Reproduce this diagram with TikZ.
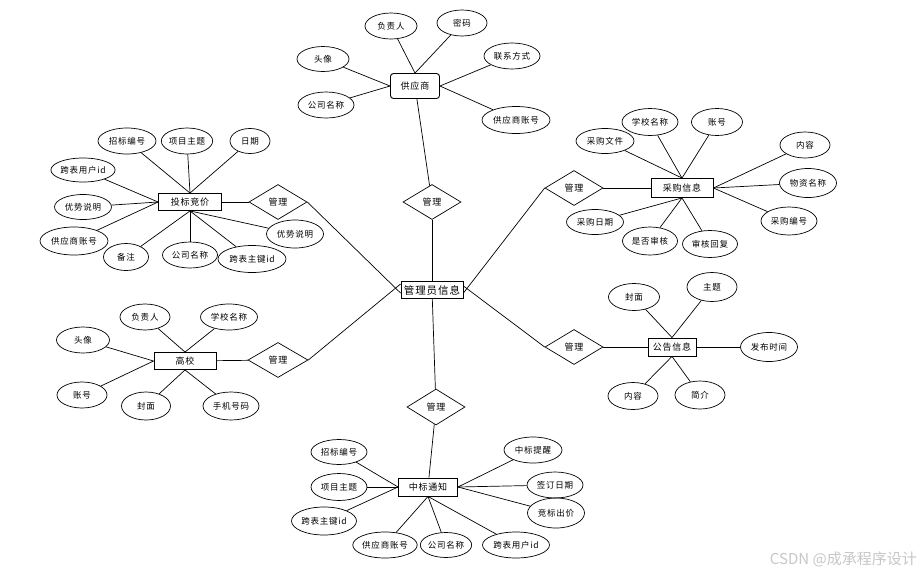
\documentclass[tikz,border=0pt]{standalone}
\usepackage{fontspec}
\setmainfont[LetterSpace=9]{Noto Sans CJK SC}
\newfontfamily\wmfont{Noto Sans CJK SC}
\usetikzlibrary{shapes.geometric}
\tikzset{
  attr/.style={draw, ellipse, line width=0.7pt, inner sep=0pt, font=\fontsize{8.5}{10}\selectfont},
  ent/.style={draw, rectangle, line width=0.9pt, inner sep=0pt, fill=white, font=\fontsize{9}{10}\selectfont},
  rel/.style={draw, diamond, line width=0.7pt, inner sep=0pt, minimum width=58pt, minimum height=35pt, font=\fontsize{9}{10}\selectfont},
  link/.style={line width=0.7pt}
}
\begin{document}
\begin{tikzpicture}[x=1pt,y=-1pt]
\useasboundingbox (0,0) rectangle (922,574);
\fill[white] (0,0) rectangle (922,574);

% central
\node[ent, minimum width=62pt, minimum height=17pt, font=\fontsize{10.5}{12}\selectfont] (admin) at (432,290) {管理员信息};

% ---------- supplier ----------
\node[ent, rounded corners=3pt, minimum width=49pt, minimum height=25pt] (sup) at (415,86) {供应商};
\node[attr, minimum width=52pt, minimum height=26pt] (s1) at (391,26) {负责人};
\node[attr, minimum width=50pt, minimum height=26pt] (s2) at (462,23) {密码};
\node[attr, minimum width=56pt, minimum height=26pt] (s3) at (512,56) {联系方式};
\node[attr, minimum width=52pt, minimum height=25pt] (s4) at (323,59) {头像};
\node[attr, minimum width=56pt, minimum height=26pt] (s5) at (326,105) {公司名称};
\node[attr, minimum width=68pt, minimum height=27pt] (s6) at (516,120) {供应商账号};
\node[rel] (d0) at (432,202) {管理};
\draw[link] (s1) -- (sup.north);
\draw[link] (s2) -- (sup.north);
\draw[link] (s3) -- (sup.east);
\draw[link] (s6) -- (sup.east);
\draw[link] (s4) -- (sup.west);
\draw[link] (s5) -- (sup.west);
\draw[link] (sup) -- (d0);
\draw[link] (d0) -- (admin);

% ---------- bid ----------
\node[ent, minimum width=63pt, minimum height=17pt] (bid) at (190,202) {投标竞价};
\node[attr, minimum width=58pt, minimum height=26pt] (b1) at (127,141) {招标编号};
\node[attr, minimum width=50pt, minimum height=26pt] (b2) at (187,141) {项目主题};
\node[attr, minimum width=40pt, minimum height=25pt] (b3) at (250,141) {日期};
\node[attr, minimum width=57pt, minimum height=24pt] (b4) at (83,170) {跨表用户id};
\node[attr, minimum width=57pt, minimum height=25pt] (b5) at (83,207) {优势说明};
\node[attr, minimum width=68pt, minimum height=28pt] (b6) at (74,241) {供应商账号};
\node[attr, minimum width=45pt, minimum height=27pt] (b7) at (126,257) {备注};
\node[attr, minimum width=55pt, minimum height=26pt] (b8) at (190,255) {公司名称};
\node[attr, minimum width=68pt, minimum height=27pt] (b9) at (252,259) {跨表主键id};
\node[attr, minimum width=57pt, minimum height=28pt] (b10) at (295,234) {优势说明};
\node[rel] (d1) at (278,202) {管理};
\draw[link] (b1) -- (bid.north);
\draw[link] (b2) -- (bid.north);
\draw[link] (b3) -- (bid.north);
\draw[link] (b4) -- (bid.west);
\draw[link] (b5) -- (bid.west);
\draw[link] (b6) -- (bid.west);
\draw[link] (b7) -- (bid.south);
\draw[link] (b8) -- (bid.south);
\draw[link] (b9) -- (bid.south);
\draw[link] (b10) -- (bid.south);
\draw[link] (bid) -- (d1);
\draw[link] (d1.east) -- ([yshift=-3pt]admin.west);

% ---------- purchase ----------
\node[ent, minimum width=62pt, minimum height=19pt] (pur) at (682,188) {采购信息};
\node[attr, minimum width=58pt, minimum height=25pt] (p1) at (605,141) {采购文件};
\node[attr, minimum width=56pt, minimum height=27pt] (p2) at (650,122) {学校名称};
\node[attr, minimum width=51pt, minimum height=27pt] (p3) at (717,122) {账号};
\node[attr, minimum width=50pt, minimum height=26pt] (p4) at (805,145) {内容};
\node[attr, minimum width=57pt, minimum height=29pt] (p5) at (808,183) {物资名称};
\node[attr, minimum width=56pt, minimum height=28pt] (p6) at (789,221) {采购编号};
\node[attr, minimum width=57pt, minimum height=25pt] (p7) at (595,222) {采购日期};
\node[attr, minimum width=55pt, minimum height=28pt] (p8) at (650,241) {是否审核};
\node[attr, minimum width=55pt, minimum height=27pt] (p9) at (710,244) {审核回复};
\node[rel] (d2) at (574,188) {管理};
\draw[link] (p1) -- (pur.north);
\draw[link] (p2) -- (pur.north);
\draw[link] (p3) -- (pur.north);
\draw[link] (p4) -- (pur.east);
\draw[link] (p5) -- (pur.east);
\draw[link] (p6) -- (pur.east);
\draw[link] (p7) -- (pur.south);
\draw[link] (p8) -- (pur.south);
\draw[link] (p9) -- (pur.south);
\draw[link] (d2) -- (pur);
\draw[link] (d2.west) -- ([yshift=-3pt]admin.east);

% ---------- notice ----------
\node[ent, minimum width=48pt, minimum height=18pt] (ann) at (672,347) {公告信息};
\node[attr, minimum width=51pt, minimum height=27pt] (a1) at (634,297) {封面};
\node[attr, minimum width=50pt, minimum height=29pt] (a2) at (712,287) {主题};
\node[attr, minimum width=57pt, minimum height=29pt] (a3) at (769,347) {发布时间};
\node[attr, minimum width=50pt, minimum height=27pt] (a4) at (633,396) {内容};
\node[attr, minimum width=50pt, minimum height=28pt] (a5) at (700,395) {简介};
\node[rel] (d3) at (574,347) {管理};
\draw[link] (a1) -- (ann.north);
\draw[link] (a2) -- (ann.north);
\draw[link] (a3) -- (ann.east);
\draw[link] (a4) -- (ann.south);
\draw[link] (a5) -- (ann.south);
\draw[link] (d3) -- (ann);
\draw[link] (d3.west) -- ([yshift=4pt]admin.east);

% ---------- school ----------
\node[ent, minimum width=62pt, minimum height=17pt] (sch) at (185,361) {高校};
\node[attr, minimum width=50pt, minimum height=26pt] (c1) at (145,317) {负责人};
\node[attr, minimum width=57pt, minimum height=26pt] (c2) at (229,317) {学校名称};
\node[attr, minimum width=53pt, minimum height=26pt] (c3) at (83,340) {头像};
\node[attr, minimum width=50pt, minimum height=26pt] (c4) at (82,395) {账号};
\node[attr, minimum width=49pt, minimum height=28pt] (c5) at (146,406) {封面};
\node[attr, minimum width=56pt, minimum height=28pt] (c6) at (231,406) {手机号码};
\node[rel, minimum width=60pt] (d4) at (278,360) {管理};
\draw[link] (c1) -- (sch.north);
\draw[link] (c2) -- (sch.north);
\draw[link] (c3) -- (sch.west);
\draw[link] (c4) -- (sch.west);
\draw[link] (c5) -- (sch.south);
\draw[link] (c6) -- (sch.south);
\draw[link] (sch) -- (d4);
\draw[link] (d4.east) -- ([yshift=6pt]admin.west);

% ---------- award notice ----------
\node[ent, minimum width=59pt, minimum height=18pt] (win) at (428,487) {中标通知};
\node[attr, minimum width=56pt, minimum height=25pt] (w1) at (339,452) {招标编号};
\node[attr, minimum width=56pt, minimum height=27pt] (w2) at (339,487) {项目主题};
\node[attr, minimum width=65pt, minimum height=28pt] (w3) at (324,521) {跨表主键id};
\node[attr, minimum width=60pt, minimum height=26pt] (w4) at (385,545) {供应商账号};
\node[attr, minimum width=48pt, minimum height=25pt] (w5) at (446,545) {公司名称};
\node[attr, minimum width=67pt, minimum height=26pt] (w6) at (516,545) {跨表用户id};
\node[attr, minimum width=58pt, minimum height=26pt] (w7) at (533,450) {中标提醒};
\node[attr, minimum width=56pt, minimum height=26pt] (w8) at (555,485) {签订日期};
\node[attr, minimum width=57pt, minimum height=30pt] (w9) at (556,513) {竞标出价};
\node[rel, minimum height=36pt] (d5) at (436,407) {管理};
\draw[link] (w1) -- (win.west);
\draw[link] (w2) -- (win.west);
\draw[link] (w3) -- (win.west);
\draw[link] (w4) -- (win.south);
\draw[link] (w5) -- (win.south);
\draw[link] (w6) -- (win.south);
\draw[link] (w7) -- (win.east);
\draw[link] (w8) -- (win.east);
\draw[link] (w9) -- (win.east);
\draw[link] (admin) -- (d5);
\draw[link] (d5) -- (win);

% watermark
\node[text=black!22, font=\wmfont\fontsize{15}{16}\selectfont, anchor=east, inner sep=0pt] (wm) at (917,559) {CSDN @成承程序设计};
\end{tikzpicture}
\end{document}
